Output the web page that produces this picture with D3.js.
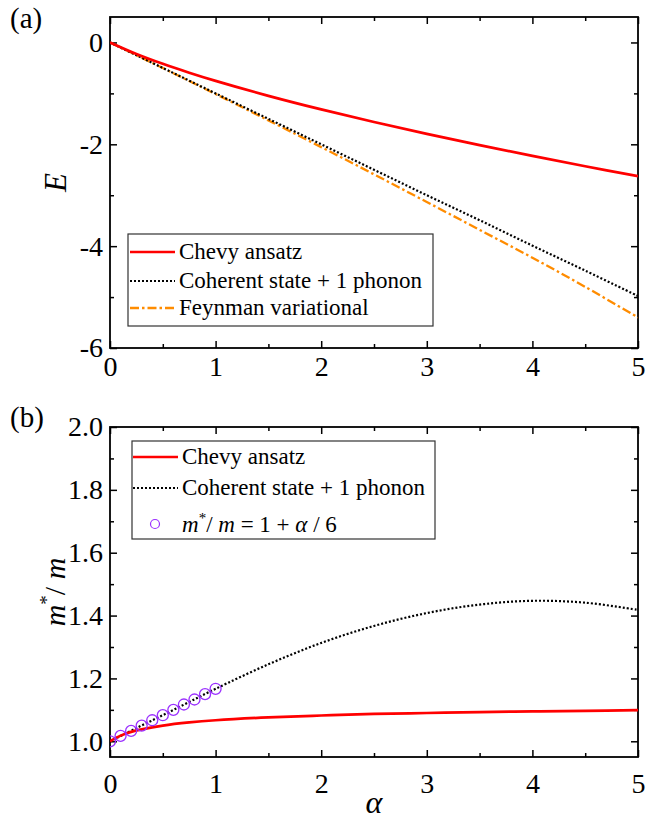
<!DOCTYPE html>
<html>
<head>
<meta charset="utf-8">
<script src="https://cdn.jsdelivr.net/npm/d3@7"></script>
<style>
  body { margin: 0; background: #fff; }
  svg, svg text { font-family: "Liberation Serif", "DejaVu Serif", serif; }
</style>
</head>
<body>
<div id="chart"></div>
<script>
// panel (a): ground state energy vs alpha
var alphaE = [0, 0.25, 0.5, 0.75, 1, 1.5, 2, 2.5, 3, 3.5, 4, 4.5, 5];
var chevyE = [0, -0.226, -0.420, -0.594, -0.755, -1.048, -1.315, -1.562, -1.795, -2.016, -2.227, -2.430, -2.627];
var coherentE = [0, -0.25, -0.50, -0.75, -1.00, -1.50, -2.00, -2.50, -3.00, -3.49, -3.99, -4.48, -4.98];
var feynmanE = [0, -0.250, -0.503, -0.757, -1.013, -1.530, -2.055, -2.590, -3.133, -3.680, -4.227, -4.800, -5.400];

// panel (b): effective mass vs alpha
var alphaM = [0, 0.1, 0.2, 0.3, 0.5, 0.75, 1, 1.5, 2, 2.5, 3, 3.5, 4, 4.5, 5];
var chevyM = [1.0, 1.018, 1.030, 1.038, 1.050, 1.060, 1.067, 1.076, 1.082, 1.087, 1.090, 1.093, 1.095, 1.097, 1.099];
var alphaCoh = [0, 0.25, 0.5, 0.75, 1, 1.5, 2, 2.5, 3, 3.5, 4, 4.5, 5];
var coherentM = [1.0, 1.042, 1.083, 1.125, 1.167, 1.245, 1.313, 1.367, 1.408, 1.435, 1.447, 1.441, 1.418];
var alphaLin = [0, 0.1, 0.2, 0.3, 0.4, 0.5, 0.6, 0.7, 0.8, 0.9, 1.0];
var linearM = [1.0, 1.017, 1.033, 1.05, 1.067, 1.083, 1.1, 1.117, 1.133, 1.15, 1.167];

var xTicks = [0, 1, 2, 3, 4, 5];
var xMinor = [0.5, 1.5, 2.5, 3.5, 4.5];
var eTicks = [0, -2, -4, -6];
var eMinor = [-1, -3, -5];
var mTicks = [1.0, 1.2, 1.4, 1.6, 1.8, 2.0];
var mMinor = [1.1, 1.3, 1.5, 1.7, 1.9];

var serif = 'Liberation Serif, DejaVu Serif, serif';
var width = 659, height = 822;
var svg = d3.select('#chart').append('svg')
  .attr('width', width)
  .attr('height', height)
  .attr('font-family', serif);

var x = d3.scaleLinear().domain([0, 5]).range([110, 638]);
var yE = d3.scaleLinear().domain([-6, 0.5]).range([348, 17]);
var yM = d3.scaleLinear().domain([0.95, 2.0]).range([757, 427]);

function styleAxis (g) {
  g.attr('font-family', serif).attr('font-size', 28);
  g.select('.domain').remove();
  g.selectAll('line').attr('stroke', '#000').attr('stroke-width', 1.5);
  g.selectAll('text').attr('fill', '#000');
}

function drawFrame (y, major, minor, fmt, xPad, id) {
  var top = y.range()[1], bottom = y.range()[0];
  var l = x.range()[0], r = x.range()[1];

  svg.append('g').attr('transform', 'translate(0,' + bottom + ')')
    .call(d3.axisBottom(x).tickValues(xTicks).tickSize(-7).tickPadding(xPad).tickFormat(d3.format('d')))
    .call(styleAxis);
  svg.append('g').attr('transform', 'translate(0,' + bottom + ')')
    .call(d3.axisBottom(x).tickValues(xMinor).tickSize(-4).tickFormat(''))
    .call(styleAxis);
  svg.append('g').attr('transform', 'translate(0,' + top + ')')
    .call(d3.axisTop(x).tickValues(xTicks).tickSize(-7).tickFormat(''))
    .call(styleAxis);
  svg.append('g').attr('transform', 'translate(0,' + top + ')')
    .call(d3.axisTop(x).tickValues(xMinor).tickSize(-4).tickFormat(''))
    .call(styleAxis);

  svg.append('g').attr('transform', 'translate(' + l + ',0)')
    .call(d3.axisLeft(y).tickValues(major).tickSize(-7).tickPadding(7).tickFormat(fmt))
    .call(styleAxis);
  svg.append('g').attr('transform', 'translate(' + l + ',0)')
    .call(d3.axisLeft(y).tickValues(minor).tickSize(-4).tickFormat(''))
    .call(styleAxis);
  svg.append('g').attr('transform', 'translate(' + r + ',0)')
    .call(d3.axisRight(y).tickValues(major).tickSize(-7).tickFormat(''))
    .call(styleAxis);
  svg.append('g').attr('transform', 'translate(' + r + ',0)')
    .call(d3.axisRight(y).tickValues(minor).tickSize(-4).tickFormat(''))
    .call(styleAxis);

  svg.append('clipPath').attr('id', id)
    .append('rect')
    .attr('x', l).attr('y', top)
    .attr('width', r - l).attr('height', bottom - top);

  svg.append('rect')
    .attr('x', l).attr('y', top)
    .attr('width', r - l).attr('height', bottom - top)
    .attr('fill', 'none')
    .attr('stroke', '#000')
    .attr('stroke-width', 1.8);
}

function zip (xs, ys) {
  return xs.map(function (d, i) { return [d, ys[i]]; });
}

function drawLine (y, xs, ys, color, w, dash, clip) {
  var line = d3.line()
    .x(function (d) { return x(d[0]); })
    .y(function (d) { return y(d[1]); })
    .curve(d3.curveCatmullRom);
  svg.append('path')
    .datum(zip(xs, ys))
    .attr('clip-path', 'url(#' + clip + ')')
    .attr('fill', 'none')
    .attr('stroke', color)
    .attr('stroke-width', w)
    .attr('stroke-dasharray', dash)
    .attr('d', line);
}

var red = '#ff0000', orange = '#ff8c00', purple = '#9b30ff';
var dotted = '2,2', dashDot = '9,3,2.5,3';

// ---- panel (a)
drawFrame(yE, eTicks, eMinor, function (d) { return String(d); }, 8, 'clipA');
drawLine(yE, alphaE, feynmanE, orange, 2.3, dashDot, 'clipA');
drawLine(yE, alphaE, coherentE, '#000', 2.2, dotted, 'clipA');
drawLine(yE, alphaE, chevyE, red, 2.7, null, 'clipA');

// ---- panel (b)
drawFrame(yM, mTicks, mMinor, d3.format('.1f'), 16, 'clipB');
drawLine(yM, alphaCoh, coherentM, '#000', 2.2, dotted, 'clipB');
drawLine(yM, alphaM, chevyM, red, 2.7, null, 'clipB');
svg.append('g').attr('clip-path', 'url(#clipB)')
  .selectAll('circle')
  .data(zip(alphaLin, linearM))
  .enter()
  .append('circle')
  .attr('cx', function (d) { return x(d[0]); })
  .attr('cy', function (d) { return yM(d[1]); })
  .attr('r', 5.5)
  .attr('fill', 'none')
  .attr('stroke', purple)
  .attr('stroke-width', 1.3);

// ---- panel labels and axis titles
svg.append('text').attr('x', 10).attr('y', 28).attr('font-size', 29).text('(a)');
svg.append('text').attr('x', 10).attr('y', 427).attr('font-size', 29).text('(b)');

svg.append('text')
  .attr('transform', 'translate(66,' + ((yE.range()[0] + yE.range()[1]) / 2) + ') rotate(-90)')
  .attr('text-anchor', 'middle')
  .attr('font-size', 31)
  .attr('font-style', 'italic')
  .text('E');

var mLabel = svg.append('text')
  .attr('transform', 'translate(65,' + ((yM.range()[0] + yM.range()[1]) / 2) + ') rotate(-90)')
  .attr('text-anchor', 'middle')
  .attr('font-size', 30);
mLabel.append('tspan').attr('font-style', 'italic').text('m');
mLabel.append('tspan').attr('font-size', 19).attr('dy', -12).text('*');
mLabel.append('tspan').attr('dy', 12).text('/ ');
mLabel.append('tspan').attr('font-style', 'italic').text('m');

svg.append('text')
  .attr('x', (x.range()[0] + x.range()[1]) / 2)
  .attr('y', 813)
  .attr('text-anchor', 'middle')
  .attr('font-size', 32)
  .attr('font-style', 'italic')
  .text('α');

// ---- legends
function legendBox (bx, by, bw, bh) {
  svg.append('rect')
    .attr('x', bx).attr('y', by)
    .attr('width', bw).attr('height', bh)
    .attr('fill', '#fff')
    .attr('stroke', '#333')
    .attr('stroke-width', 1.2);
}

function legendLine (lx, ly, color, w, dash, label) {
  svg.append('line')
    .attr('x1', lx).attr('x2', lx + 45)
    .attr('y1', ly).attr('y2', ly)
    .attr('stroke', color)
    .attr('stroke-width', w)
    .attr('stroke-dasharray', dash);
  svg.append('text')
    .attr('x', lx + 49).attr('y', ly + 7)
    .attr('font-size', 23)
    .text(label);
}

legendBox(128, 234, 305, 92);
legendLine(130, 252, red, 2.7, null, 'Chevy ansatz');
legendLine(130, 281, '#000', 2.2, dotted, 'Coherent state + 1 phonon');
legendLine(130, 308, orange, 2.3, dashDot, 'Feynman variational');

legendBox(132, 441, 303, 98);
legendLine(133, 457, red, 2.7, null, 'Chevy ansatz');
legendLine(133, 488, '#000', 2.2, dotted, 'Coherent state + 1 phonon');
svg.append('circle')
  .attr('cx', 155).attr('cy', 524)
  .attr('r', 4.5)
  .attr('fill', 'none')
  .attr('stroke', purple)
  .attr('stroke-width', 1.2);
var eq = svg.append('text').attr('x', 182).attr('y', 532).attr('font-size', 23);
eq.append('tspan').attr('font-style', 'italic').text('m');
eq.append('tspan').attr('font-size', 15).attr('dy', -9).text('*');
eq.append('tspan').attr('dy', 9).text('/ ');
eq.append('tspan').attr('font-style', 'italic').text('m');
eq.append('tspan').text(' = 1 + ');
eq.append('tspan').attr('font-style', 'italic').text('α');
eq.append('tspan').text(' / 6');
</script>
</body>
</html>
